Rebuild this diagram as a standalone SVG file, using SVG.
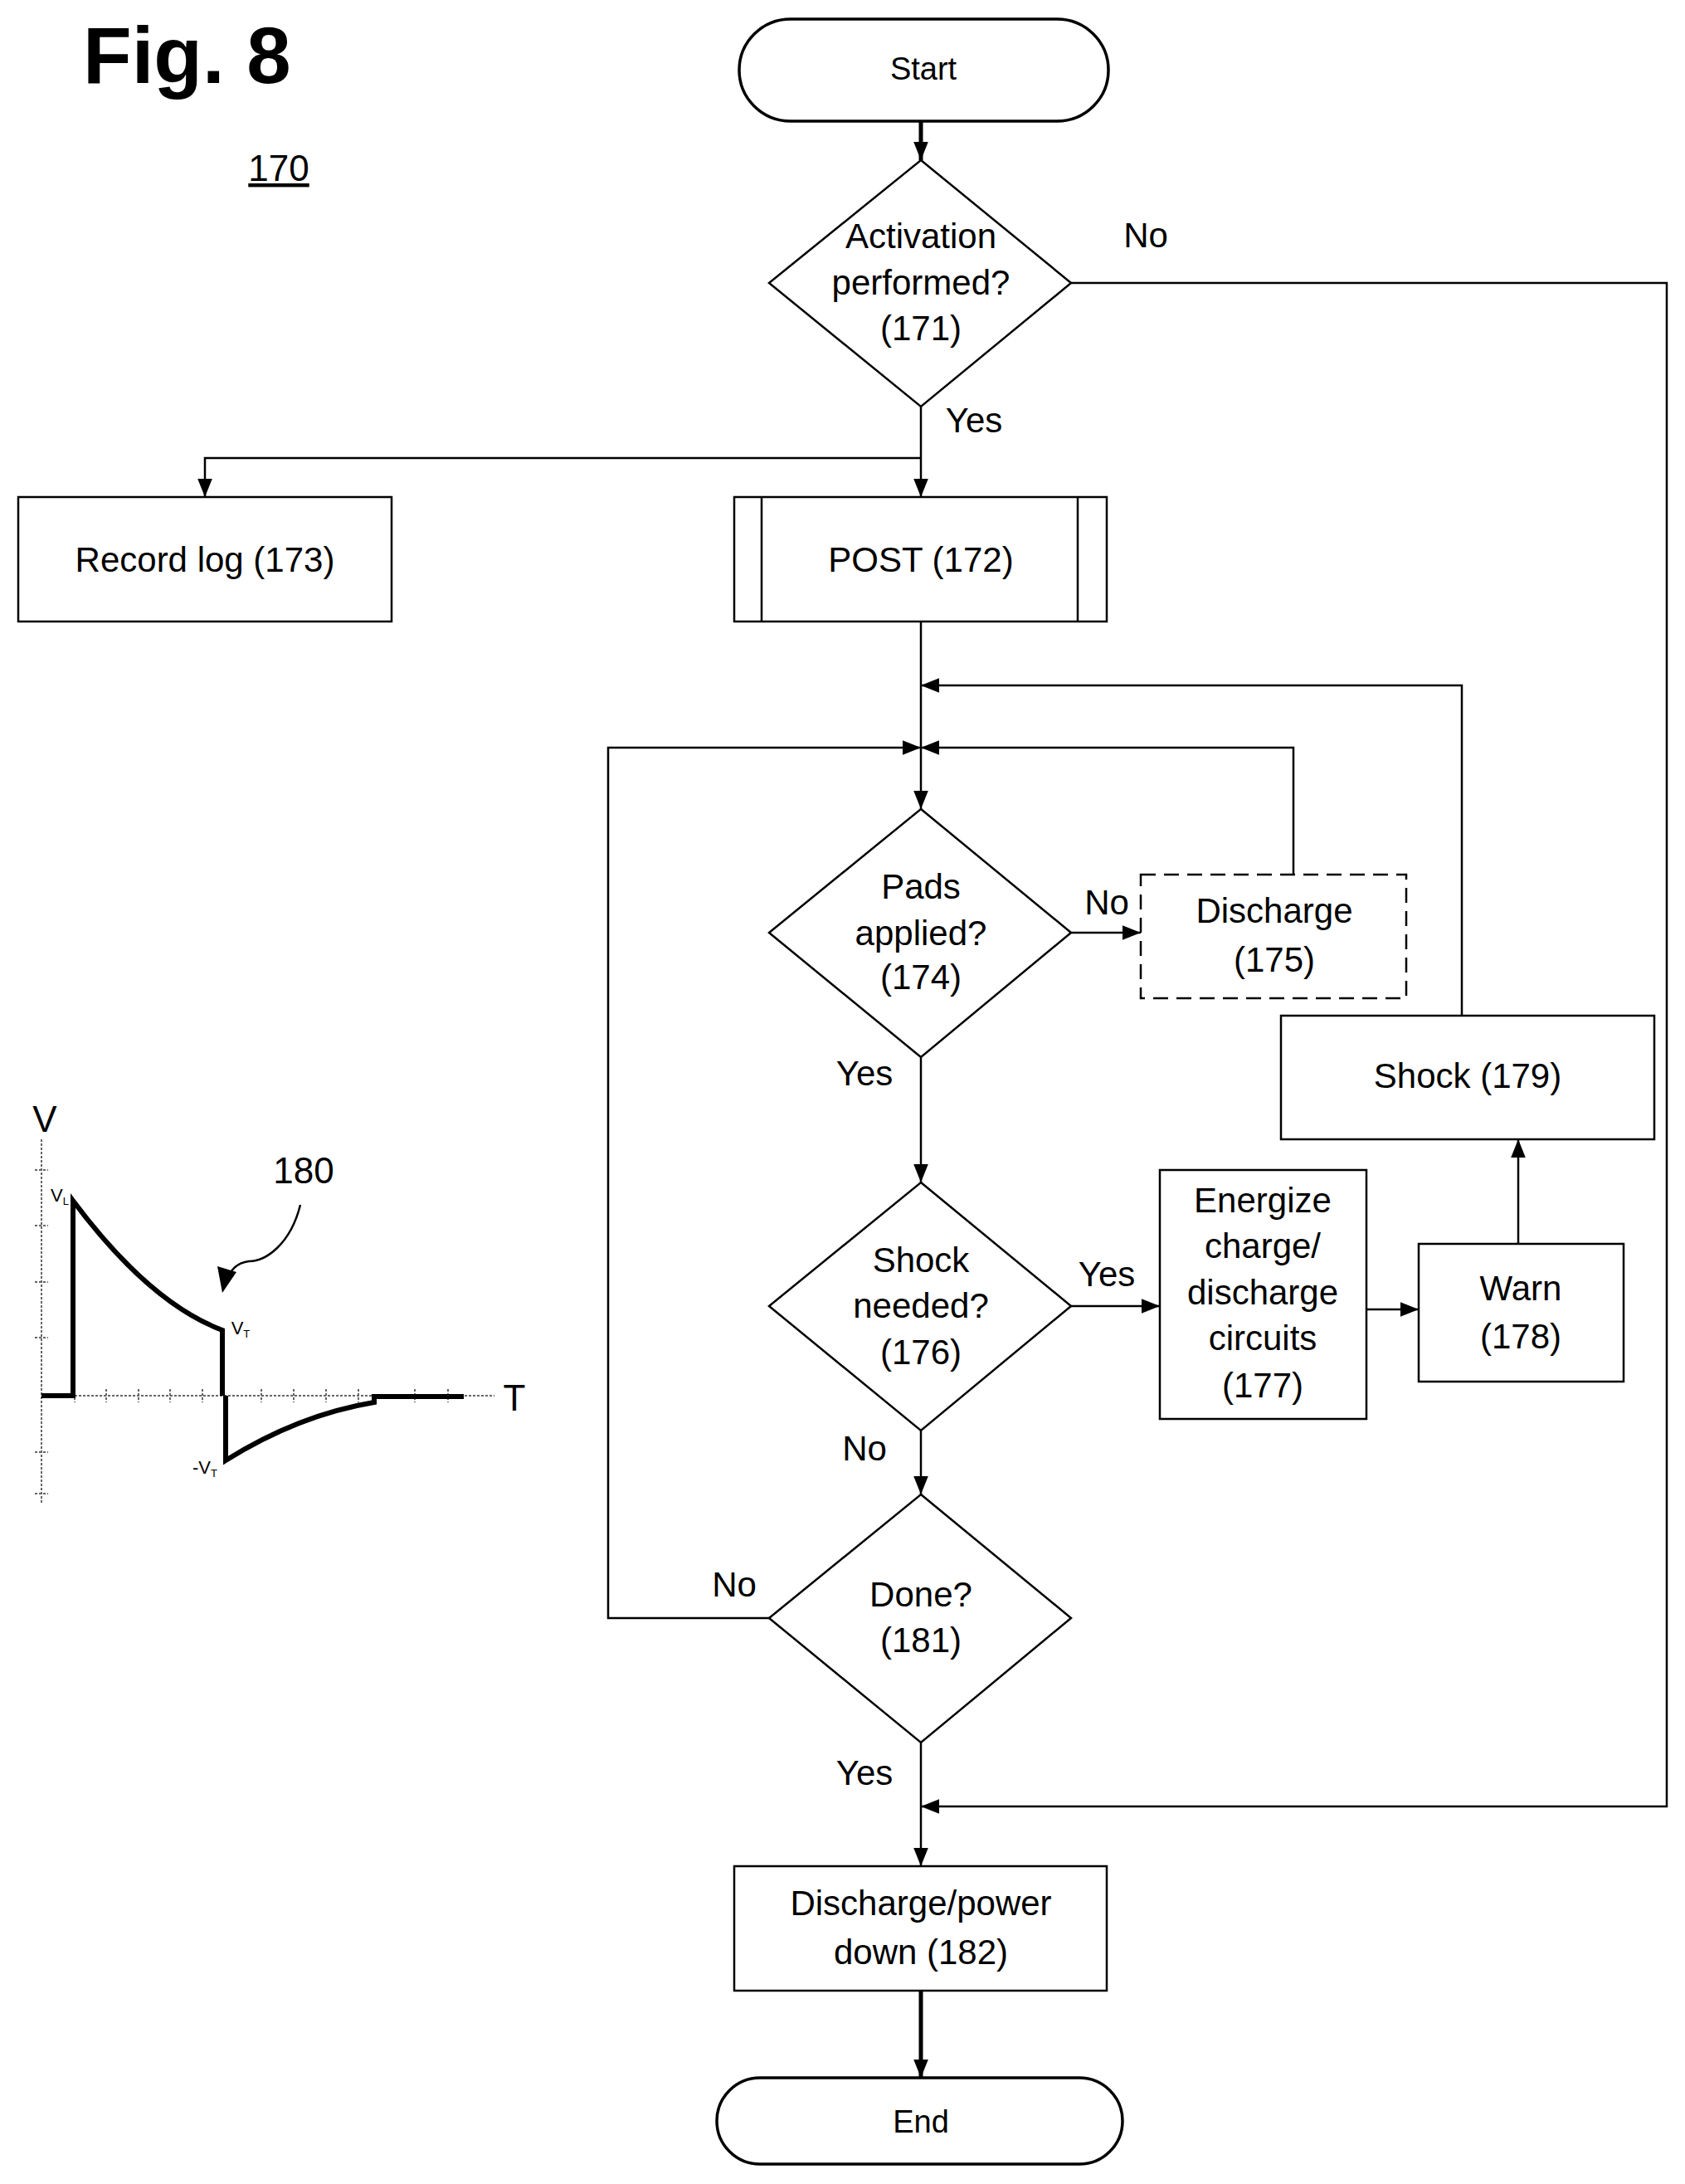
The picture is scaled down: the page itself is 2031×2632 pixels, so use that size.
<svg xmlns="http://www.w3.org/2000/svg" width="2031" height="2632" viewBox="0 0 2031 2632">
<style>
text{font-family:"Liberation Sans",Arial,sans-serif;font-size:42px;fill:#000;text-anchor:middle}
.n{fill:#fff;stroke:#000;stroke-width:2.5}
.c{fill:none;stroke:#000;stroke-width:2.5}
.t{fill:none;stroke:#000;stroke-width:5}
.l{text-anchor:start}
.ax{fill:none;stroke:#666;stroke-width:2;stroke-dasharray:3 2}
</style>
<defs>
<marker id="a2" viewBox="0 0 10 10" refX="10" refY="5" markerWidth="22" markerHeight="22" markerUnits="userSpaceOnUse" orient="auto"><path d="M0,1 L10,5 L0,9 z"/></marker>
</defs>
<text x="100" y="100" class="l" style="font-size:96px;font-weight:bold">Fig. 8</text>
<text x="336" y="218" style="font-size:44px;text-decoration:underline">170</text>

<g id="connectors">
<path class="t" d="M1110,146 V193" marker-end="url(#a2)"/>
<path class="c" d="M1291,341 H2009 V2177 H1110" marker-end="url(#a2)"/>
<path class="c" d="M1110,490 V599" marker-end="url(#a2)"/>
<path class="c" d="M1110,552 H247 V599" marker-end="url(#a2)"/>
<path class="c" d="M1110,749 V975" marker-end="url(#a2)"/>
<path class="c" d="M1762,1224 V826 H1110" marker-end="url(#a2)"/>
<path class="c" d="M1559,1054 V901 H1110" marker-end="url(#a2)"/>
<path class="c" d="M927,1950 H733 V901 H1110" marker-end="url(#a2)"/>
<path class="c" d="M1291,1124 H1375" marker-end="url(#a2)"/>
<path class="c" d="M1110,1274 V1425" marker-end="url(#a2)"/>
<path class="c" d="M1291,1574 H1398" marker-end="url(#a2)"/>
<path class="c" d="M1647,1578 H1710" marker-end="url(#a2)"/>
<path class="c" d="M1830,1499 V1373" marker-end="url(#a2)"/>
<path class="c" d="M1110,1724 V1801" marker-end="url(#a2)"/>
<path class="c" d="M1110,2100 V2249" marker-end="url(#a2)"/>
<path class="t" d="M1110,2399 V2504" marker-end="url(#a2)"/>
</g>
<g id="labels">
<text x="1381" y="298">No</text>
<text x="1174" y="521">Yes</text>
<text x="1334" y="1102">No</text>
<text x="1042" y="1308">Yes</text>
<text x="1334" y="1550">Yes</text>
<text x="1042" y="1760">No</text>
<text x="885" y="1924">No</text>
<text x="1042" y="2151">Yes</text>
</g>

<g id="start"><rect class="n" x="891" y="23" width="445" height="123" rx="62" style="stroke-width:3.5"/><text x="1113" y="96" style="font-size:38px">Start</text></g>
<g id="n171"><path class="n" d="M1110,193 L1291,341 L1110,490 L927,341 Z"/><text x="1110" y="299">Activation</text><text x="1110" y="355">performed?</text><text x="1110" y="410">(171)</text></g>
<g id="n173"><rect class="n" x="22" y="599" width="450" height="150"/><text x="247" y="689">Record log (173)</text></g>
<g id="n172"><rect class="n" x="885" y="599" width="449" height="150"/><path class="c" d="M918,599 V749 M1299,599 V749"/><text x="1110" y="689">POST (172)</text></g>
<g id="n174"><path class="n" d="M1110,975 L1291,1124 L1110,1274 L927,1124 Z"/><text x="1110" y="1083">Pads</text><text x="1110" y="1139">applied?</text><text x="1110" y="1192">(174)</text></g>
<g id="n175"><rect class="n" x="1375" y="1054" width="320" height="149" style="stroke-dasharray:18 10"/><text x="1536" y="1112">Discharge</text><text x="1536" y="1171">(175)</text></g>
<g id="n179"><rect class="n" x="1544" y="1224" width="450" height="149"/><text x="1769" y="1311">Shock (179)</text></g>
<g id="n176"><path class="n" d="M1110,1425 L1291,1574 L1110,1724 L927,1574 Z"/><text x="1110" y="1533">Shock</text><text x="1110" y="1588">needed?</text><text x="1110" y="1644">(176)</text></g>
<g id="n177"><rect class="n" x="1398" y="1410" width="249" height="300"/><text x="1522" y="1461">Energize</text><text x="1522" y="1516">charge/</text><text x="1522" y="1572">discharge</text><text x="1522" y="1627">circuits</text><text x="1522" y="1684">(177)</text></g>
<g id="n178"><rect class="n" x="1710" y="1499" width="247" height="166"/><text x="1833" y="1567">Warn</text><text x="1833" y="1625">(178)</text></g>
<g id="n181"><path class="n" d="M1110,1801 L1291,1950 L1110,2100 L927,1950 Z"/><text x="1110" y="1936">Done?</text><text x="1110" y="1991">(181)</text></g>
<g id="n182"><rect class="n" x="885" y="2249" width="449" height="150"/><text x="1110" y="2308">Discharge/power</text><text x="1110" y="2367">down (182)</text></g>
<g id="end"><rect class="n" x="864" y="2504" width="489" height="104" rx="52" style="stroke-width:3.5"/><text x="1110" y="2570" style="font-size:38px">End</text></g>

<g id="graph180">
<path class="ax" d="M50,1373 V1813 M50,1682 H596"/>
<path class="ax" d="M42,1410 H58 M42,1477 H58 M42,1545 H58 M42,1612 H58 M42,1750 H58 M42,1800 H58 M90,1674 V1690 M128,1674 V1690 M167,1674 V1690 M205,1674 V1690 M244,1674 V1690 M315,1674 V1690 M354,1674 V1690 M393,1674 V1690 M432,1674 V1690 M500,1674 V1690 M540,1674 V1690"/>
<path fill="none" stroke="#000" stroke-width="6" d="M50,1682 H88 V1447 Q180,1570 268,1603 V1682 M272,1682 V1760 Q360,1705 451,1690 V1683 H559"/>
<text x="54" y="1364" style="font-size:44px">V</text>
<text x="620" y="1700" style="font-size:44px">T</text>
<text x="72" y="1448" style="font-size:22px">V<tspan font-size="13" dy="4">L</tspan></text>
<text x="290" y="1608" style="font-size:22px">V<tspan font-size="13" dy="4">T</tspan></text>
<text x="247" y="1776" style="font-size:22px">-V<tspan font-size="13" dy="4">T</tspan></text>
<text x="366" y="1426" style="font-size:44px">180</text>
<path fill="none" stroke="#000" stroke-width="2.5" d="M362,1452 C350,1500 320,1520 300,1520 C285,1522 278,1530 272,1545"/>
<path d="M262,1526 L285,1533 L268,1558 Z"/>
</g>
</svg>
